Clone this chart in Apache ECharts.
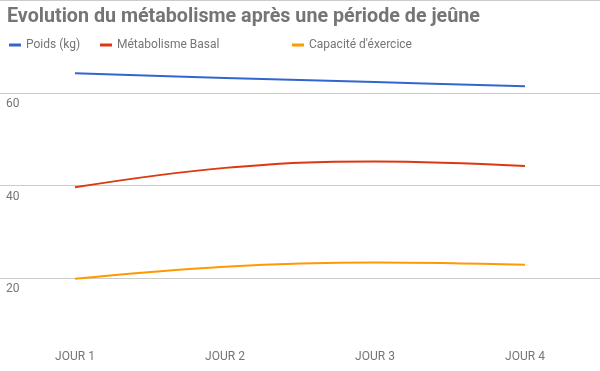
<!DOCTYPE html>
<html><head><meta charset="utf-8">
<script src="https://cdn.jsdelivr.net/npm/echarts@6/dist/echarts.min.js"></script>
<style>html,body{margin:0;padding:0;background:#fff}#c{width:600px;height:371px}</style>
</head><body><div id="c"></div>
<script>
const categories = ['JOUR 1', 'JOUR 2', 'JOUR 3', 'JOUR 4'];
const poids = [64.2, 63.2, 62.3, 61.4];
const metabolisme = [39.6, 43.8, 45.2, 44.2];
const capacite = [19.9, 22.5, 23.4, 22.9];
const seriesNames = ['Poids (kg)', 'Métabolisme Basal', "Capacité d'éxercice"];
const colors = ['#3366cc', '#dc3912', '#ff9900'];

const chart = echarts.init(document.getElementById('c'));
const FONT = 'Roboto';
const legendBase = {
  top: 34, icon: 'rect', itemWidth: 12, itemHeight: 3, itemGap: 0,
  textStyle: { fontFamily: FONT, fontSize: 12, color: '#757575' }
};
chart.setOption({
  animation: false,
  color: colors,
  title: {
    text: 'Evolution du métabolisme après une période de jeûne',
    left: 2, top: 2,
    textStyle: { fontFamily: FONT, fontSize: 19.7, fontWeight: 'bold', color: '#757575' }
  },
  legend: [
    Object.assign({}, legendBase, { left: 4, data: [seriesNames[0]] }),
    Object.assign({}, legendBase, { left: 95, data: [seriesNames[1]] }),
    Object.assign({}, legendBase, { left: 287, data: [seriesNames[2]] })
  ],
  grid: { left: 0, right: 0, top: 0, bottom: -1 },
  xAxis: {
    type: 'category', data: categories, boundaryGap: true,
    axisLine: { show: false }, axisTick: { show: false },
    axisLabel: { inside: true, margin: 8, fontFamily: FONT, fontSize: 12, color: '#757575', verticalAlign: 'bottom' }
  },
  yAxis: {
    type: 'value', min: 0, max: 80, interval: 20,
    axisLine: { show: false }, axisTick: { show: false },
    splitLine: { lineStyle: { color: '#cccccc', width: 1 } },
    axisLabel: {
      inside: true, margin: 6, fontFamily: FONT, fontSize: 12, color: '#757575',
      verticalAlign: 'top', padding: [5, 0, 0, 0],
      formatter: v => (v === 0 || v === 80) ? '' : String(v)
    }
  },
  series: [
    { name: seriesNames[0], type: 'line', data: poids, smooth: 0.4, showSymbol: false, lineStyle: { width: 2 } },
    { name: seriesNames[1], type: 'line', data: metabolisme, smooth: 0.4, showSymbol: false, lineStyle: { width: 2 } },
    { name: seriesNames[2], type: 'line', data: capacite, smooth: 0.4, showSymbol: false, lineStyle: { width: 2 } }
  ]
});
</script></body></html>
